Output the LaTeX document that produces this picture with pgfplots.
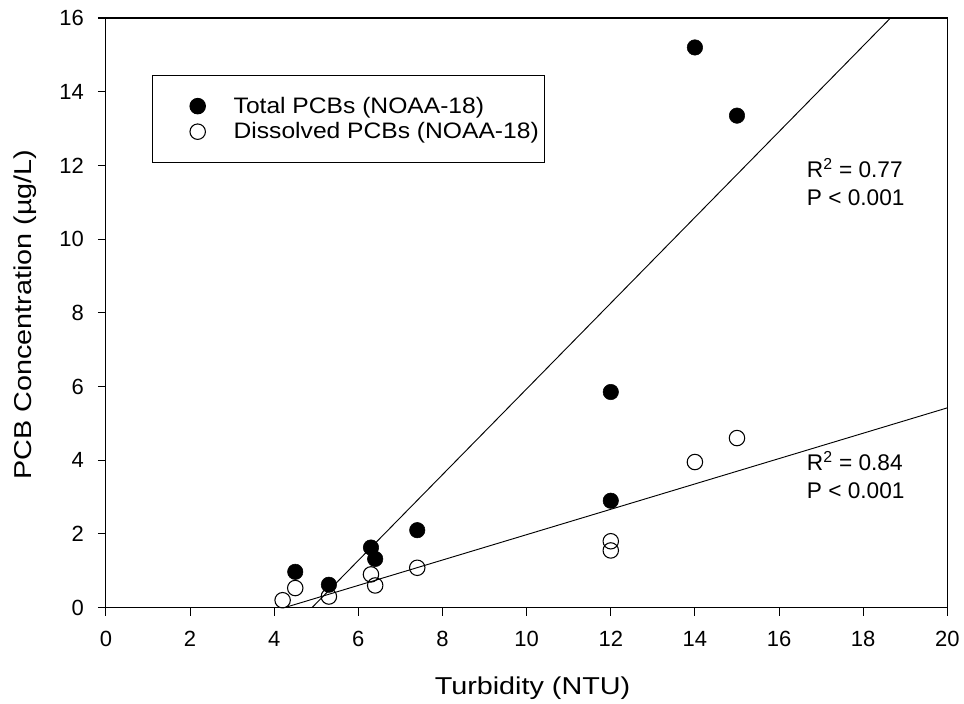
\documentclass[border=0pt]{standalone}
\usepackage{pgfplots}
\pgfplotsset{compat=1.18}
\usepackage{fontspec}
\setmainfont{Liberation Sans}
\newfontfamily\labelfont{Liberation Sans}[FakeStretch=1.18]
\newfontfamily\legfont{Liberation Sans}[FakeStretch=1.1]
\begin{document}
\begin{tikzpicture}
\begin{axis}[
  scale only axis, width=631.5pt, height=442.5pt,
  xmin=0, xmax=20, ymin=0, ymax=16,
  xtick={0,2,...,20}, ytick={0,2,...,16},
  tick align=outside, tick pos=left, major tick length=6pt,
  axis line style={line width=0.8pt}, tick style={line width=0.8pt, black},
  /pgf/number format/assume math mode=true,
  ticklabel style={font=\fontsize{16.5}{19}\selectfont},
  xticklabel style={yshift=-8.5pt},
  yticklabel style={xshift=-7pt},
  xlabel={Turbidity (NTU)}, ylabel={PCB Concentration (µg/L)},
  label style={font=\labelfont\fontsize{18.3}{21}\selectfont},
  xlabel style={at={(axis description cs:0.507,-0.136)}, anchor=center},
  ylabel style={at={(axis description cs:-0.096,0.497)}, anchor=center},
  legend style={at={(rel axis cs:0.0546,0.903)}, anchor=north west, draw=black, line width=0.8pt,
    font=\legfont\fontsize{16.8}{19}\selectfont, inner xsep=2pt, inner ysep=15pt, row sep=3.5pt,
    nodes={inner ysep=1pt, inner xsep=2pt},
    cells={anchor=west}},
  legend image code/.code={\path[draw=none] (0pt,0pt) -- (57pt,0pt); \draw[#1] plot coordinates {(32pt,0pt)};},
]
\addplot[only marks, mark=*, mark size=5.8pt, mark options={fill=black, draw=black}] coordinates {
  (4.5,0.97) (5.3,0.62) (6.3,1.63) (6.4,1.32) (7.4,2.1) (12,5.85) (12,2.9) (14,15.2) (15,13.35)
};
\addlegendentry{Total PCBs (NOAA-18)}
\addplot[only marks, mark=o, mark size=5.8pt, mark options={fill=white, draw=black, line width=0.8pt}] coordinates {
  (4.2,0.2) (4.5,0.53) (5.3,0.3) (6.3,0.9) (6.4,0.6) (7.4,1.08) (12,1.8) (12,1.55) (14,3.95) (15,4.6)
};
\addlegendentry{Dissolved PCBs (NOAA-18)}
\addplot[black, line width=0.7pt, forget plot] coordinates {(4.9,0) (18.65,16)};
\addplot[black, line width=0.7pt, forget plot] coordinates {(4.25,0) (20,5.42)};
\node[anchor=west, align=left, font=\fontsize{17}{21}\selectfont] at (axis cs:16.55,11.55) {R\textsuperscript{2} = 0.77\\P < 0.001};
\node[anchor=west, align=left, font=\fontsize{17}{21}\selectfont] at (axis cs:16.55,3.6) {R\textsuperscript{2} = 0.84\\P < 0.001};
\end{axis}
\path (-79.5pt,-72pt) rectangle (643.5pt,456pt);
\end{tikzpicture}
\end{document}
